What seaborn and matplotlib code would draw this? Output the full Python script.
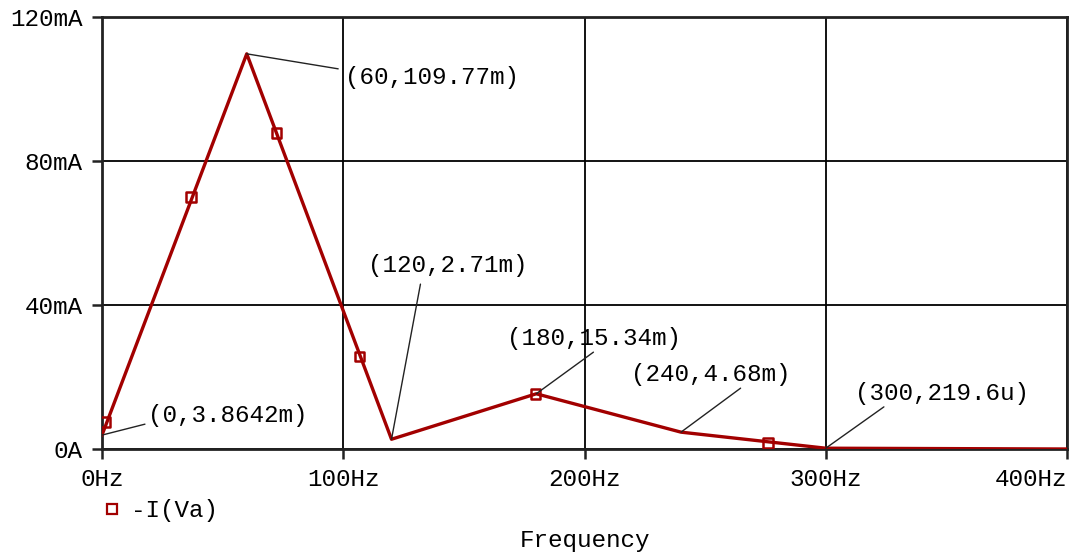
import matplotlib
matplotlib.use("Agg")
import matplotlib.pyplot as plt
import seaborn as sns
import pandas as pd
from matplotlib.lines import Line2D

# ---- data ----
freq_hz = [0, 60, 120, 180, 240, 300, 400]
current_ma = [3.8642, 109.77, 2.71, 15.34, 4.68, 0.2196, 0.0]
marker_hz = [1.2, 36.9, 72.2, 106.6, 179.7, 276.0]
marker_ma = [7.5, 70.0, 87.8, 25.6, 15.3, 1.7]
label_texts = ["(0,3.8642m)", "(60,109.77m)", "(120,2.71m)",
               "(180,15.34m)", "(240,4.68m)", "(300,219.6u)"]
label_pts_hz = [0, 60, 120, 180, 240, 300]
label_pts_ma = [3.8642, 109.77, 2.71, 15.34, 4.68, 0.2196]
x_ticks = [0, 100, 200, 300, 400]
x_tick_labels = ["0Hz", "100Hz", "200Hz", "300Hz", "400Hz"]
y_ticks = [0, 40, 80, 120]
y_tick_labels = ["0A", "40mA", "80mA", "120mA"]
series_name = "-I(Va)"

# ---- layout of labels (line end, text anchor), in data units ----
line_end = [(17.8, 6.9), (97.9, 105.6), (132.0, 45.8), (203.7, 26.9), (264.7, 16.9), (324.1, 11.7)]
text_pos = [(19.1, 9.4), (100.8, 103.3), (110.4, 51.1), (168.0, 30.8), (219.1, 20.6), (312.0, 15.3)]

sns.set_theme(style="white")
plt.rcParams['font.family'] = ['Liberation Mono', 'DejaVu Sans Mono']
FS = 17.5
TRACE = "#a20000"

fig = plt.figure(figsize=(10.72, 5.54), dpi=100)
fig.patch.set_facecolor("white")
ax = fig.add_axes([102/1072, 105/554, (1067-102)/1072, (449-17)/554])

df = pd.DataFrame({"f": freq_hz, "i": current_ma})
sns.lineplot(data=df, x="f", y="i", ax=ax, color=TRACE, linewidth=2.4, zorder=5)
mk = pd.DataFrame({"f": marker_hz, "i": marker_ma})
sns.scatterplot(data=mk, x="f", y="i", ax=ax, marker="s", s=45,
                facecolor="none", edgecolor=TRACE, linewidth=1.8, zorder=6)

ax.set_xlim(0, 400)
ax.set_ylim(0, 120)
ax.set_xticks(x_ticks)
ax.set_xticklabels(x_tick_labels)
ax.set_yticks(y_ticks)
ax.set_yticklabels(y_tick_labels)
ax.grid(True, color="black", linewidth=1.3)
ax.set_axisbelow(True)
for s in ax.spines.values():
    s.set_color("#222222")
    s.set_linewidth(2.0)
ax.tick_params(axis="both", direction="out", length=7, width=1.8, color="#222222",
               labelsize=FS, pad=7, bottom=True, left=True, labelcolor="black")
labels = ax.get_xticklabels()
labels[-1].set_horizontalalignment("right")
labels[-1].set_x(400)
ax.set_xlabel("Frequency", fontsize=FS, labelpad=27, color="black")
ax.set_ylabel("")

for t, px, py, le, tp in zip(label_texts, label_pts_hz, label_pts_ma, line_end, text_pos):
    ax.plot([px, le[0]], [py, le[1]], color="#222222", linewidth=1.0, zorder=7)
    ax.text(tp[0], tp[1], t, fontsize=FS, ha="left", va="center", color="black", zorder=8)

handle = Line2D([], [], marker="s", linestyle="none", markersize=7,
                markerfacecolor="none", markeredgecolor=TRACE, markeredgewidth=1.6)
fig.legend([handle], [series_name], loc="center left",
           bbox_to_anchor=(78/1072, (554-511)/554), frameon=False,
           fontsize=FS, handletextpad=0.3, handlelength=1.0,
           labelcolor="black")

fig.savefig("out.png", dpi=100, facecolor="white")
